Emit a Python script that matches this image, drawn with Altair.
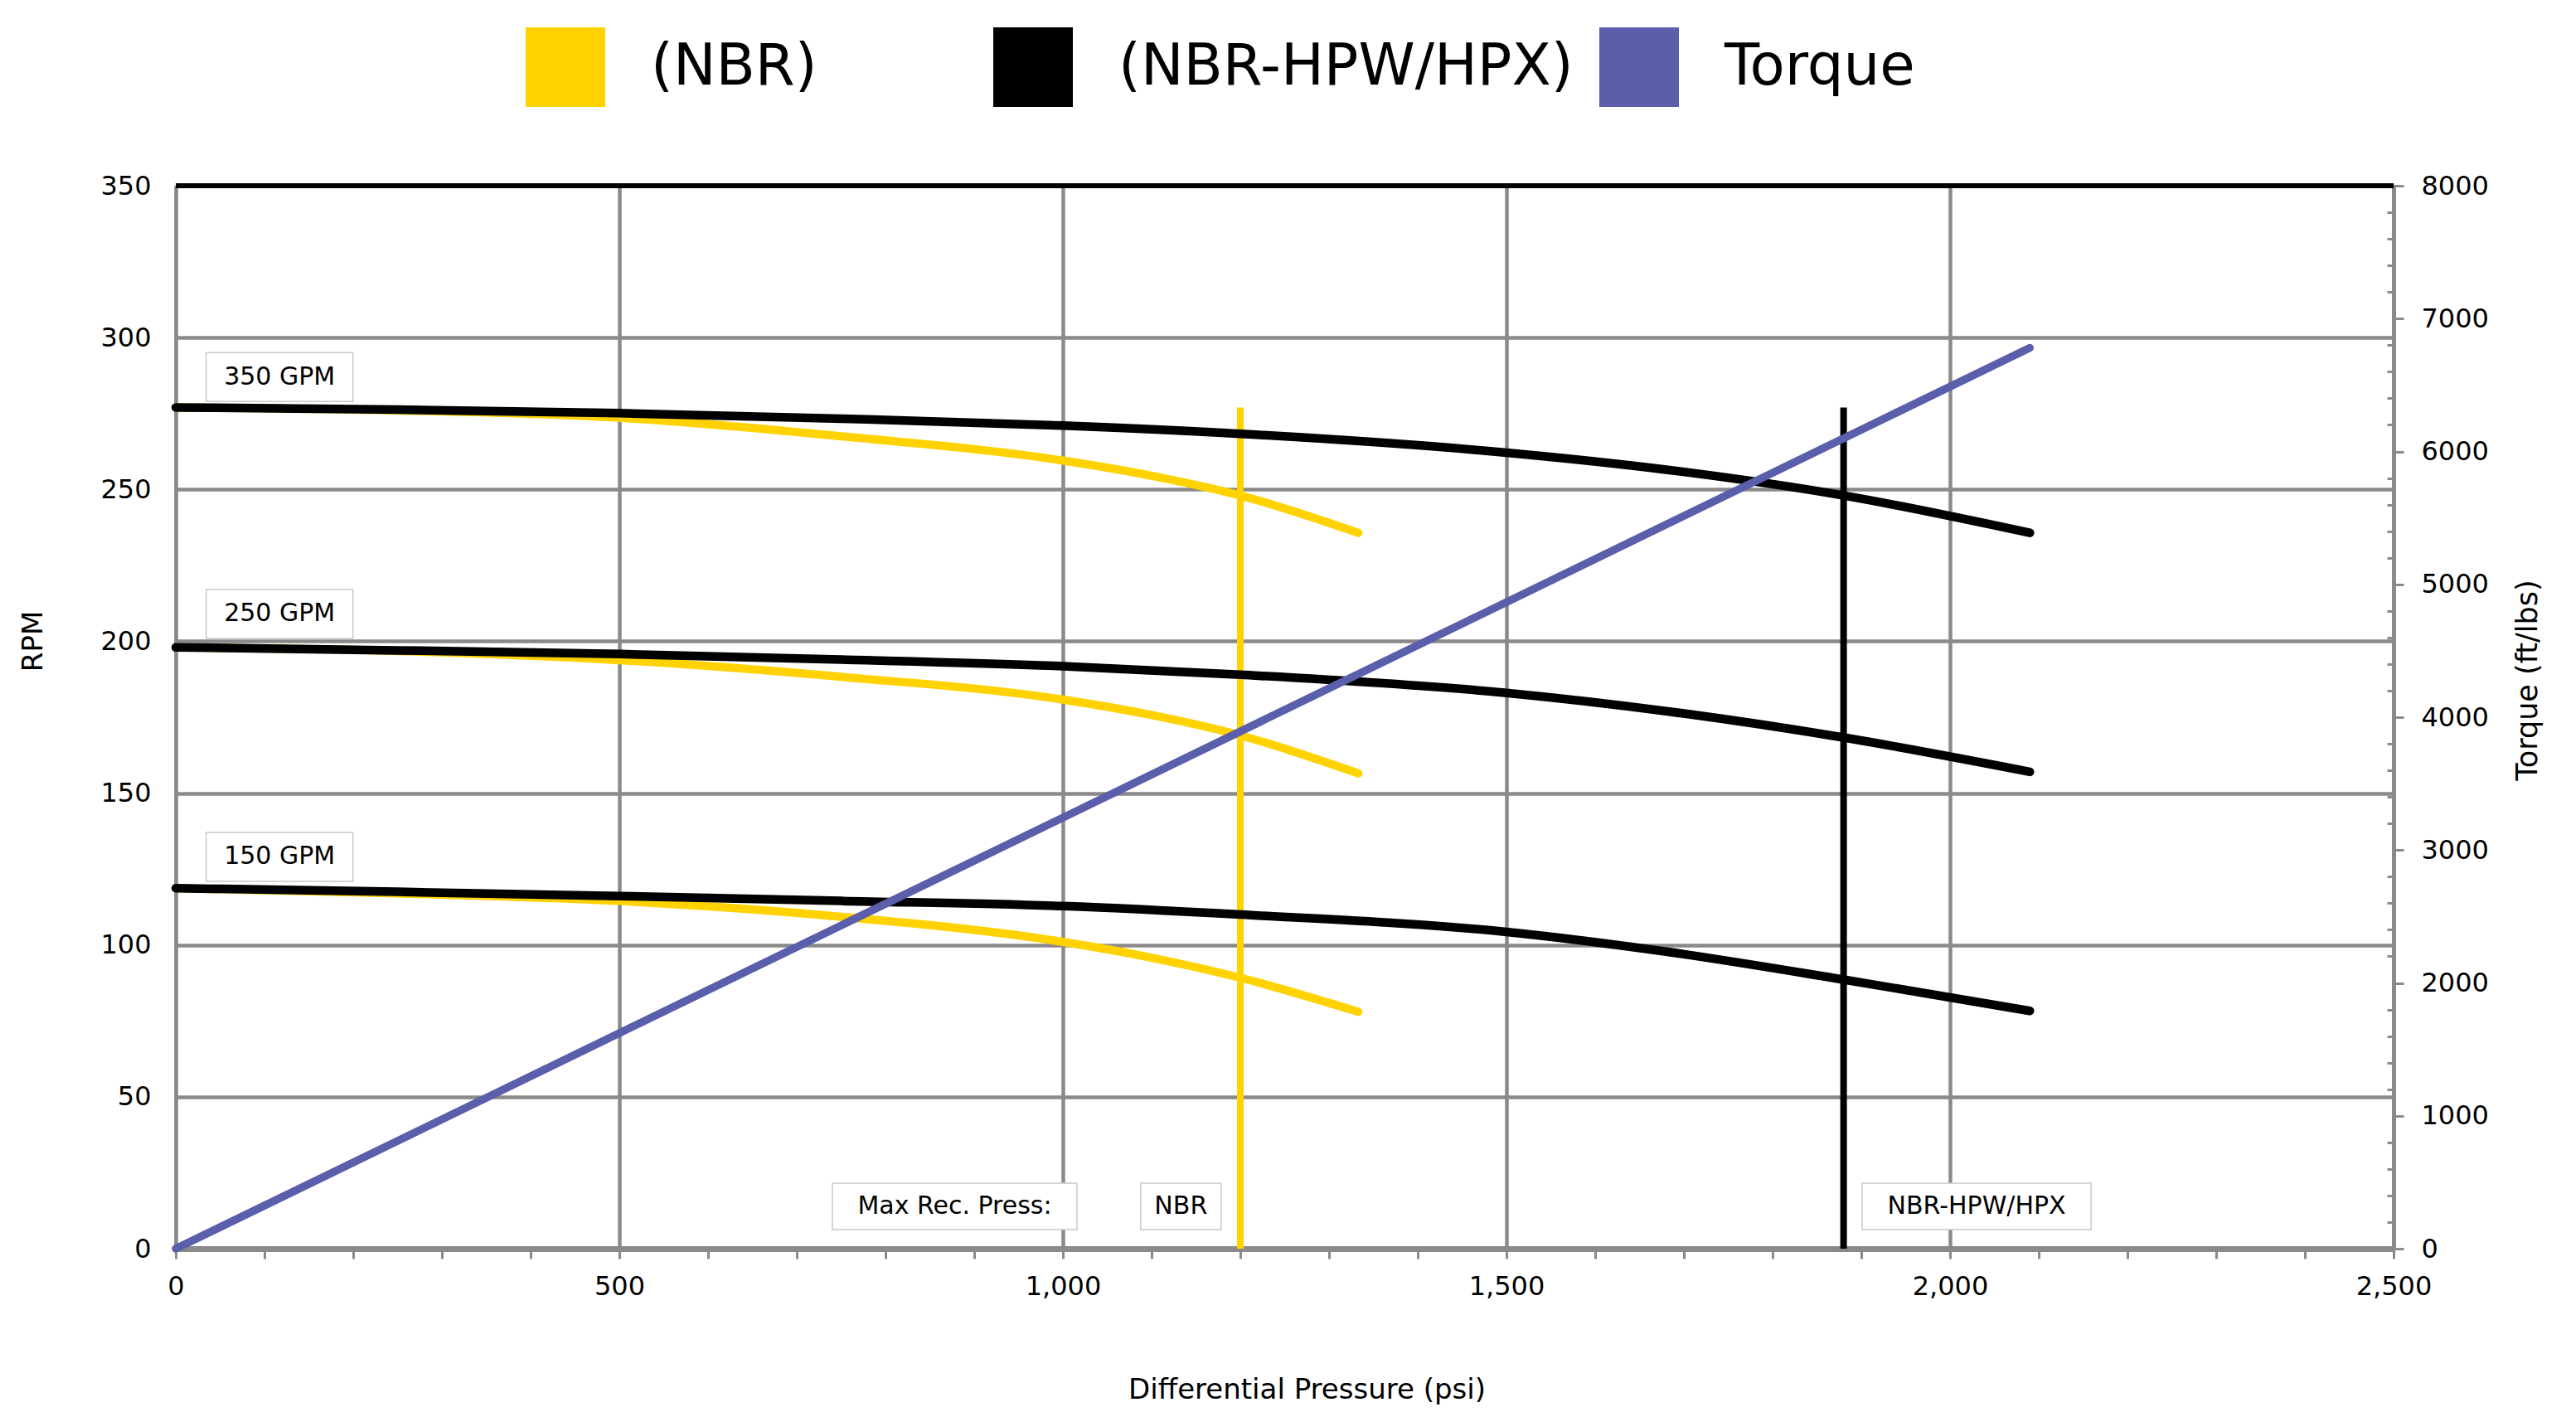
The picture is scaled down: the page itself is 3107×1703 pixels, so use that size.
import altair as alt
import pandas as pd

# ---------------- data ----------------
hpw_psi = [0, 250, 500, 750, 1000, 1200, 1500, 1680, 1880, 2090]
hpw_350 = [277, 276.3, 275.1, 273.3, 271, 268.3, 262.1, 256.5, 248, 235.7]
hpw_250 = [198, 197, 195.8, 194, 191.8, 189, 183, 177, 168.3, 157]
hpw_150 = [118.7, 117.5, 116.1, 114.5, 112.8, 110, 104.3, 97.8, 88.6, 78.3]

nbr_psi = [0, 250, 500, 750, 1000, 1100, 1200, 1333]
nbr_350 = [277, 276, 273.6, 267.5, 259.5, 254.5, 248, 235.7]
nbr_250 = [198, 196.8, 193.8, 188.3, 180.8, 175.7, 169, 156.5]
nbr_150 = [118.7, 117, 114.5, 109.3, 101, 95.8, 89.2, 78]

torque_psi = [0, 2090]
torque_val = [0, 6780]

max_press_material = ["(NBR)", "(NBR-HPW/HPX)"]
max_press_psi = [1200, 1880]
max_press_top = [277, 277]

gpm_labels = ["350 GPM", "250 GPM", "150 GPM"]
gpm_label_psi = [117, 117, 117]
gpm_label_rpm = [287, 209, 129]

press_labels = ["Max Rec. Press:", "NBR", "NBR-HPW/HPX"]
press_label_psi = [878, 1133, 2030]
press_label_rpm = [13.9, 13.9, 13.9]

material_names = ["(NBR)", "(NBR-HPW/HPX)"]
material_colors = ["#FFD200", "#000000"]
torque_name = ["Torque"]
torque_color = ["#5B5EAB"]

# ---------------- tables ----------------
rows = []
for gpm, vals in (("350", nbr_350), ("250", nbr_250), ("150", nbr_150)):
    for p, v in zip(nbr_psi, vals):
        rows.append({"series": "(NBR)", "gpm": gpm, "psi": p, "rpm": v})
nbr_df = pd.DataFrame(rows)
rows = []
for gpm, vals in (("350", hpw_350), ("250", hpw_250), ("150", hpw_150)):
    for p, v in zip(hpw_psi, vals):
        rows.append({"series": "(NBR-HPW/HPX)", "gpm": gpm, "psi": p, "rpm": v})
hpw_df = pd.DataFrame(rows)
torque_df = pd.DataFrame({"series": "Torque", "psi": torque_psi, "torque": torque_val})
vline_df = pd.DataFrame({"series": max_press_material, "psi": max_press_psi, "top": max_press_top})
gpm_df = pd.DataFrame({"label": gpm_labels, "psi": gpm_label_psi, "rpm": gpm_label_rpm})
press_df = pd.DataFrame({"label": press_labels, "psi": press_label_psi, "rpm": press_label_rpm})

FONT = "DejaVu Sans"
GRID = "#8a8a8a"

x_scale = alt.Scale(domain=[0, 2500], nice=False, zero=False)
y_scale = alt.Scale(domain=[0, 350], nice=False)
t_scale = alt.Scale(domain=[0, 8000], nice=False)

x_axis = alt.Axis(
    values=list(range(0, 2501, 100)),
    labelExpr="datum.value % 500 === 0 ? format(datum.value, ',') : ''",
    grid=True, gridColor=GRID, gridWidth=4.5,
    gridOpacity={"condition": {"test": "datum.value % 500 === 0", "value": 1}, "value": 0},
    tickSize=12, tickColor=GRID, tickWidth=3,
    domainColor=GRID, domainWidth=7,
    labelPadding=18, labelFontSize=32, labelFlush=False, labelOverlap=False,
    title="Differential Pressure (psi)", titleFontSize=34,
    titleX=1364, titleY=170, titleBaseline="middle", titleAlign="center",
)
y_axis = alt.Axis(
    values=list(range(0, 351, 50)), title="RPM",
    grid=True, gridColor=GRID, gridWidth=4.5, ticks=False,
    domainColor=GRID, domainWidth=4,
    labelFontSize=32, labelPadding=30, labelFlush=False, labelOverlap=False,
    titleFontSize=34, titleX=-172, titleY=549, titleBaseline="middle", titleAlign="center",
)
t_axis = alt.Axis(
    orient="right", values=list(range(0, 8001, 200)), format="d",
    labelExpr="datum.value % 1000 === 0 ? datum.label : ''",
    tickSize={"condition": {"test": "datum.value % 1000 === 0", "value": 12}, "value": -8},
    tickColor=GRID, tickWidth=3, domainColor=GRID, domainWidth=5, grid=False,
    labelPadding=21, labelFontSize=32, labelFlush=False, labelOverlap=False,
    title="Torque (ft/lbs)", titleAngle=270, titleFontSize=35,
    titleX=161, titleY=596, titleBaseline="middle", titleAlign="center",
)

legend_style = dict(
    title=None, orient="none", direction="horizontal", legendY=-191,
    symbolType="square", symbolSize=1600, symbolStrokeWidth=56, symbolOpacity=1,
    labelFontSize=69, labelFont=FONT, labelColor="black", labelOffset=55,
    padding=0, labelLimit=0,
)
color = alt.Color(
    "series:N",
    scale=alt.Scale(domain=material_names, range=material_colors),
    legend=alt.Legend(legendX=422, columnPadding=128, **legend_style),
)
torque_stroke = alt.Stroke(
    "series:N",
    scale=alt.Scale(domain=torque_name, range=torque_color),
    legend=alt.Legend(legendX=1717, **legend_style),
)


def X(f):
    return alt.X(f, type="quantitative", scale=x_scale, axis=x_axis)


def Y(f):
    return alt.Y(f, type="quantitative", scale=y_scale, axis=y_axis)


nbr_lines = alt.Chart(nbr_df).mark_line(strokeWidth=10, interpolate="monotone", strokeCap="round").encode(
    x=X("psi"), y=Y("rpm"), color=color, detail="gpm:N",
)
hpw_lines = alt.Chart(hpw_df).mark_line(strokeWidth=10.5, interpolate="monotone", strokeCap="round").encode(
    x=X("psi"), y=Y("rpm"), color=color, detail="gpm:N",
)
vlines_nbr = alt.Chart(vline_df).transform_filter("datum.series === '(NBR)'").mark_rule(strokeWidth=8).encode(
    x=X("psi"), y=Y("top"), y2=alt.datum(0), color=color,
)
vlines_hpw = alt.Chart(vline_df).transform_filter("datum.series !== '(NBR)'").mark_rule(strokeWidth=8).encode(
    x=X("psi"), y=Y("top"), y2=alt.datum(0), color=color,
)
top_border = alt.Chart(gpm_df).mark_rule(color="black", strokeWidth=6).encode(
    y=alt.Y(datum=350, type="quantitative", scale=y_scale, axis=y_axis)
)

box_style = dict(fill="white", stroke="#c8c8c8", strokeWidth=1.5)
gpm_boxes = alt.Chart(gpm_df).mark_rect(width=177, height=59, **box_style).encode(x=X("psi"), y=Y("rpm"))
gpm_text = alt.Chart(gpm_df).mark_text(font=FONT, fontSize=30, color="black").encode(
    x=X("psi"), y=Y("rpm"), text="label:N")

box_w = {"Max Rec. Press:": 295, "NBR": 97, "NBR-HPW/HPX": 276}
press_boxes = [
    alt.Chart(press_df).transform_filter(alt.datum.label == lab)
    .mark_rect(width=w, height=56, **box_style).encode(x=X("psi"), y=Y("rpm"))
    for lab, w in box_w.items()
]
press_text = alt.Chart(press_df).mark_text(font=FONT, fontSize=30, color="black").encode(
    x=X("psi"), y=Y("rpm"), text="label:N")

rpm_layer = alt.layer(
    nbr_lines, gpm_boxes, *press_boxes, vlines_nbr, hpw_lines, vlines_hpw,
    top_border, gpm_text, press_text,
)

torque_line = alt.Chart(torque_df).mark_line(strokeWidth=9.5, strokeCap="round").encode(
    x=X("psi"),
    y=alt.Y("torque:Q", scale=t_scale, axis=t_axis),
    stroke=torque_stroke,
)

chart = (
    alt.layer(rpm_layer, torque_line)
    .resolve_scale(y="independent")
    .properties(
        width=2675, height=1282,
        padding={"left": 204, "top": 216, "right": 200, "bottom": 189},
        autosize=alt.AutoSizeParams(type="none"),
        background="white",
    )
    .configure_view(stroke=None)
    .configure_axis(labelFont=FONT, titleFont=FONT, labelColor="black", titleColor="black",
                    titleFontWeight="normal")
)

chart.save("out.html", embed_options={"renderer": "svg", "actions": False})
